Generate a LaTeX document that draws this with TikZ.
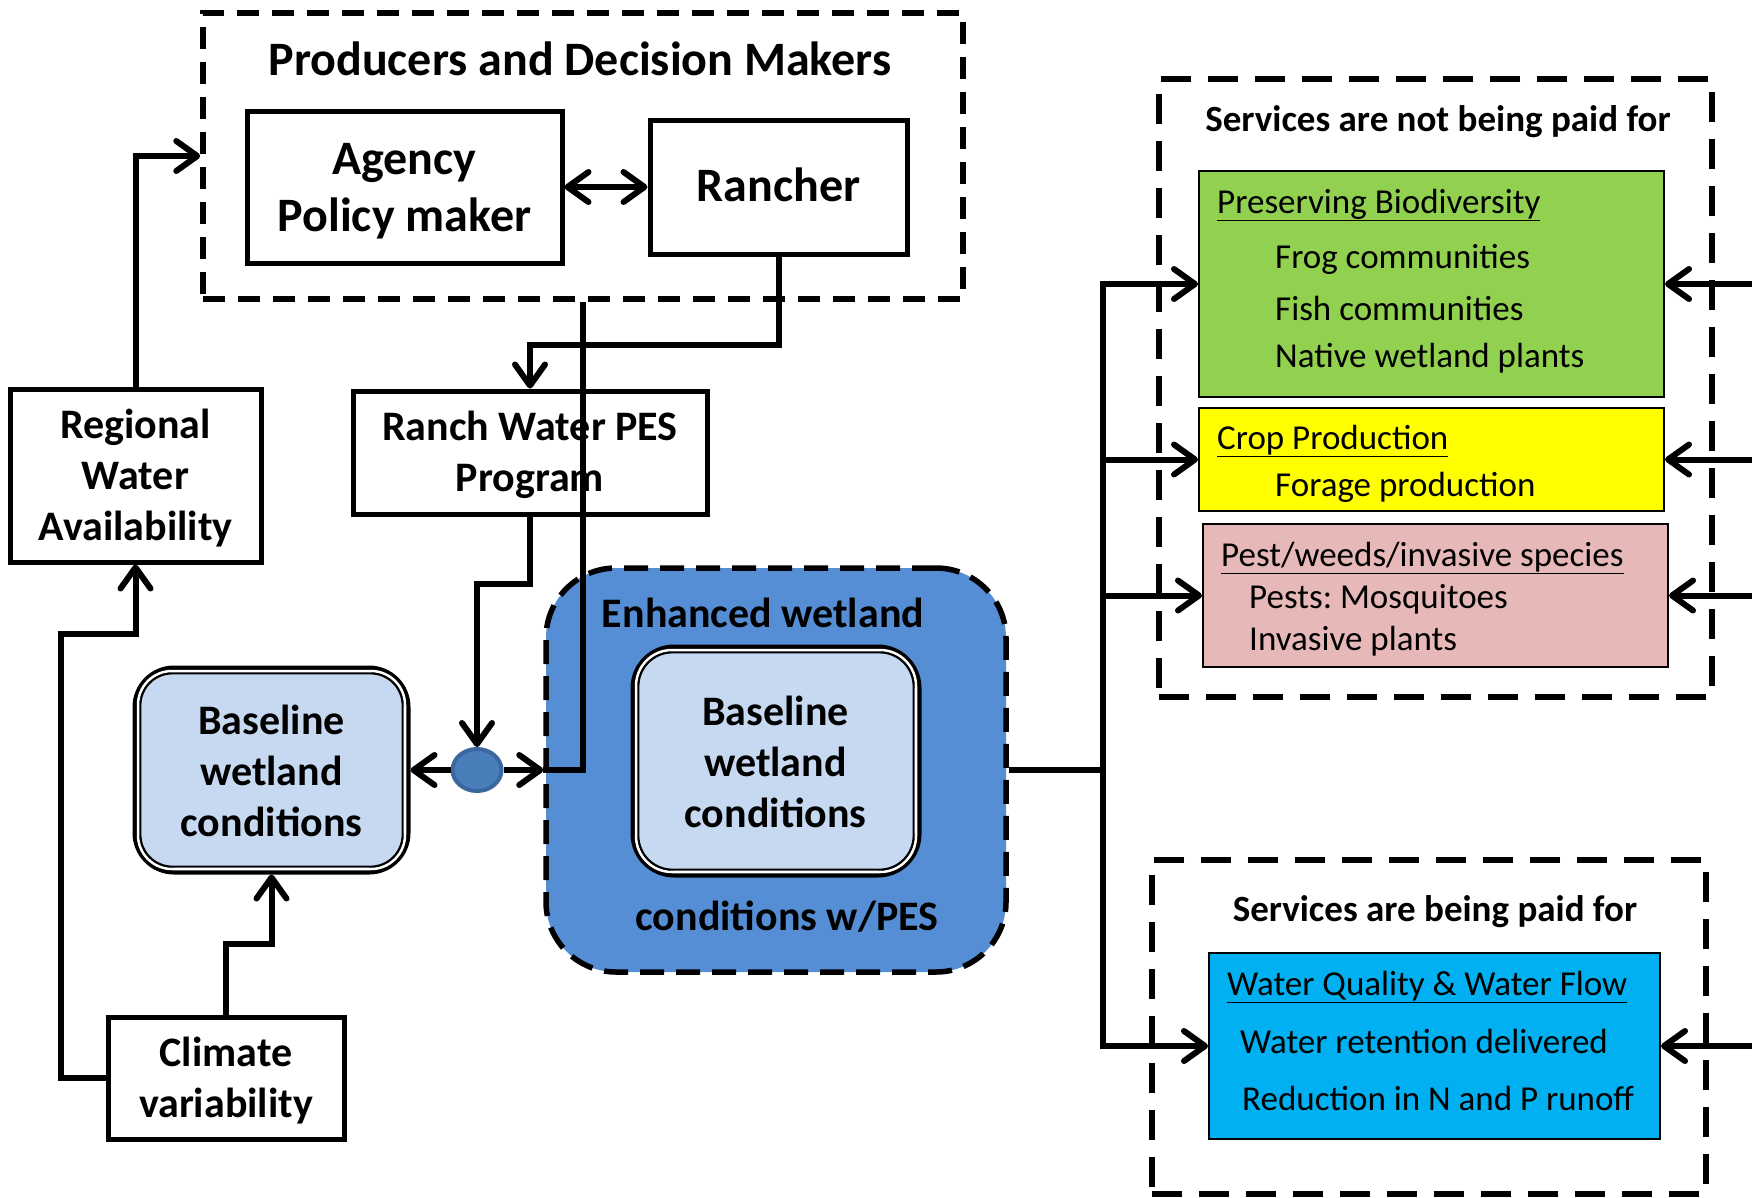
\documentclass[tikz,border=0pt]{standalone}
\usepackage{fontspec}
\setmainfont{Carlito}
\frenchspacing
\usetikzlibrary{arrows.meta,shapes.geometric,calc}
\definecolor{lightblu}{HTML}{C6D9F1}
\definecolor{enhblue}{HTML}{558ED5}
\definecolor{dotblue}{HTML}{4A7EBB}
\definecolor{dotedge}{HTML}{3A679E}
\definecolor{grn}{HTML}{92D050}
\definecolor{ylw}{HTML}{FFFF00}
\definecolor{pnk}{HTML}{E6B9B8}
\definecolor{cyn}{HTML}{00B0F0}
\begin{document}
\begin{tikzpicture}[x=1pt,y=-1pt,
  plainbox/.style={draw=black, line width=5, fill=white, inner sep=0pt},
  bigtxt/.style={font=\bfseries\fontsize{48}{57}\selectfont, align=center, inner sep=0pt},
  midtxt/.style={font=\bfseries\fontsize{42}{51}\selectfont, align=center, inner sep=0pt},
  hdrtxt/.style={font=\bfseries\fontsize{37}{44}\selectfont, inner sep=0pt},
  itemtxt/.style={font=\fontsize{35}{41}\selectfont, anchor=west, inner sep=0pt},
  dashbox/.style={draw=black, line width=5.5, dash pattern=on 22 off 13, inner sep=0pt},
  svcdash/.style={draw=black, line width=5.5, dash pattern=on 30 off 17, inner sep=0pt},
  svcbox/.style={draw=black, line width=2, inner sep=0pt},
  conn/.style={draw=black, line width=6},
  arr/.style={conn, -{Straight Barb[length=21,width=30,round]}},
  darr/.style={conn, {Straight Barb[length=21,width=30,round]}-{Straight Barb[length=21,width=30,round]}}
]
\useasboundingbox (0,0) rectangle (1752,1197);

% Producers and decision makers
\node[dashbox, minimum width=760, minimum height=286] (prod) at (583,156) {};
\node[bigtxt] (ptitle) at (580,59) {Producers and Decision Makers};
\node[plainbox, minimum width=315, minimum height=152] (agency) at (404.5,187) {};
\node[bigtxt] (agencytxt) at (404.5,191) {Agency\\Policy maker};
\node[plainbox, minimum width=257, minimum height=134] (rancher) at (778.5,187) {};
\node[bigtxt] (ranchertxt) at (778.5,185) {Rancher};

% Left column
\node[plainbox, minimum width=251, minimum height=173] (regional) at (135.5,475.5) {};
\node[midtxt] (regionaltxt) at (135.5,478.5) {Regional\\Water\\Availability};
\node[plainbox, minimum width=354, minimum height=123] (pes) at (530,452.5) {};
\node[midtxt] (pestxt) at (530,455) {Ranch Water PES\\Program};
\node[plainbox, minimum width=236, minimum height=122] (climate) at (226,1078) {};
\node[midtxt] (climatetxt) at (226,1081) {Climate\\variability};

% Baseline (left)
\node[draw=black, line width=7, fill=lightblu, rounded corners=38, minimum width=271, minimum height=202, inner sep=0pt] (base) at (271.5,770) {};
\draw[white, line width=2.5, rounded corners=34] ($(base.north west)+(5.5,5.5)$) rectangle ($(base.south east)+(-5.5,-5.5)$);
\draw[black, line width=1.8, rounded corners=32] ($(base.north west)+(8,8)$) rectangle ($(base.south east)+(-8,-8)$);
\node[midtxt] (basetxt) at (271.5,771) {Baseline\\wetland\\conditions};

% Enhanced wetland
\node[fill=enhblue, draw=black, line width=5.5, dash pattern=on 24 off 12, rounded corners=70, minimum width=460, minimum height=404, inner sep=0pt] (enh) at (776,770) {};
\node[midtxt] (enhtitle) at (763,613) {Enhanced wetland};
\node[midtxt] (enhsub) at (787,917) {conditions w/PES};
\node[draw=black, line width=7, fill=lightblu, rounded corners=40, minimum width=284, minimum height=226, inner sep=0pt] (inner) at (776,761) {};
\draw[white, line width=2.5, rounded corners=36] ($(inner.north west)+(5.5,5.5)$) rectangle ($(inner.south east)+(-5.5,-5.5)$);
\draw[black, line width=1.8, rounded corners=34] ($(inner.north west)+(8,8)$) rectangle ($(inner.south east)+(-8,-8)$);
\node[midtxt] (innertxt) at (775.5,762) {Baseline\\wetland\\conditions};

% junction dot
\node[ellipse, fill=dotblue, draw=dotedge, line width=4, minimum width=49, minimum height=42, inner sep=0pt] (circ) at (477,770) {};

% Services not paid
\node[svcdash, minimum width=553, minimum height=618] (notpaid) at (1435.5,388) {};
\node[hdrtxt] (nptitle) at (1438,122) {Services are not being paid for};
\node[svcbox, fill=grn, minimum width=465, minimum height=226] (green) at (1431.5,284) {};
\node[svcbox, fill=ylw, minimum width=465, minimum height=103] (yellow) at (1431.5,459.5) {};
\node[svcbox, fill=pnk, minimum width=465, minimum height=143] (pink) at (1435.5,595.5) {};
\node[itemtxt] (g1) at (1217,205) {\underline{Preserving Biodiversity}};
\node[itemtxt] (g2) at (1275,259) {Frog communities};
\node[itemtxt] (g3) at (1275,308) {Fish communities};
\node[itemtxt] (g4) at (1275,358) {Native wetland plants};
\node[itemtxt] (y1) at (1217,441) {\underline{Crop Production}};
\node[itemtxt] (y2) at (1275,487) {Forage production};
\node[itemtxt] (p1) at (1221,558) {\underline{Pest/weeds/invasive species}};
\node[itemtxt] (p2) at (1249,599) {Pests: Mosquitoes};
\node[itemtxt] (p3) at (1249,641) {Invasive plants};

% Services paid
\node[svcdash, minimum width=554, minimum height=334] (paid) at (1429,1027) {};
\node[hdrtxt] (ptitle2) at (1435,912) {Services are being paid for};
\node[svcbox, fill=cyn, minimum width=451, minimum height=186] (cyan) at (1434.5,1046) {};
\node[itemtxt] (c1) at (1227,987) {\underline{Water Quality \& Water Flow}};
\node[itemtxt] (c2) at (1240,1041) {Water retention delivered};
\node[itemtxt] (c3) at (1242,1098) {Reduction in N and P runoff};

% helper coordinates
\coordinate (k1) at (0,345);
\coordinate (k2) at (0,584);
\coordinate (k3) at (0,944);
\coordinate (k4) at (61,634);
\coordinate (sp) at (1103,770);
\coordinate (re) at (1752,0);

% connectors
\draw[darr] (agency.east) -- (rancher.west);
\draw[arr] (regional.north) |- (prod.west);
\draw[arr] (rancher.south) -- (rancher.south |- k1) -| (pes.north);
\draw[conn] (prod.south) |- (enh.west);
\draw[arr] (pes.south) -- (pes.south |- k2) -| (circ.north);
\draw[arr] (circ.west) -- (base.east);
\draw[arr] (circ.east) -- (enh.west);
\draw[arr] (climate.north) -- (climate.north |- k3) -| (base.south);
\draw[arr] (climate.west) -- (climate.west -| k4) -- (k4) -| (regional.south);

\draw[conn] (enh.east) -- (sp);
\draw[arr] (sp) |- (green.west);
\draw[arr] (sp) |- (cyan.west);
\draw[arr] (sp |- yellow.west) -- (yellow.west);
\draw[arr] (sp |- pink.west) -- (pink.west);

\draw[arr] (re |- green.east) -- (green.east);
\draw[arr] (re |- yellow.east) -- (yellow.east);
\draw[arr] (re |- pink.east) -- (pink.east);
\draw[arr] (re |- cyan.east) -- (cyan.east);
\end{tikzpicture}
\end{document}
